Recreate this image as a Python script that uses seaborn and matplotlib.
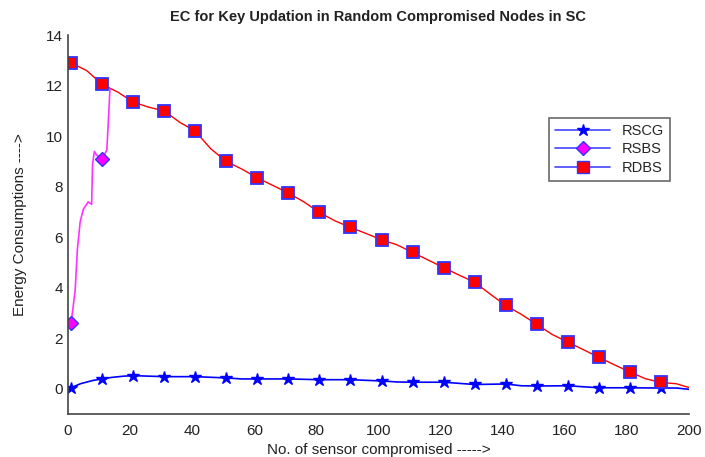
import matplotlib
matplotlib.use("Agg")
import matplotlib.pyplot as plt
from matplotlib.lines import Line2D
import seaborn as sns
import pandas as pd

# Marker positions
marker_x = [1, 11, 21, 31, 41, 51, 61, 71, 81, 91, 101, 111, 121, 131, 141, 151, 161, 171, 181, 191]
rscg_vals = [0.04, 0.39, 0.52, 0.48, 0.48, 0.43, 0.39, 0.39, 0.36, 0.36, 0.31, 0.26, 0.26, 0.17, 0.19,
             0.11, 0.12, 0.03, 0.04, 0.03]
rdbs_vals = [12.9, 12.05, 11.35, 11.0, 10.2, 9.0, 8.35, 7.75, 6.98, 6.39, 5.9, 5.4, 4.8, 4.22, 3.3,
             2.55, 1.85, 1.25, 0.67, 0.25]
rsbs_marker_x = [1, 11]
rsbs_marker_vals = [2.6, 9.1]

# Dense traces
rscg_line_x = [1, 4, 8, 11, 14, 18, 21, 31, 41, 51, 56, 61, 71, 81, 91, 101, 106, 111, 121, 131, 141,
               146, 151, 161, 171, 181, 191, 196, 200]
rscg_line_y = [0.04, 0.2, 0.33, 0.39, 0.45, 0.5, 0.52, 0.48, 0.48, 0.43, 0.39, 0.39, 0.39, 0.36, 0.36,
               0.31, 0.27, 0.26, 0.26, 0.17, 0.19, 0.12, 0.11, 0.12, 0.04, 0.04, 0.03, 0.03, -0.02]
rsbs_line_x = [1, 2.3, 3.0, 3.9, 4.9, 6.5, 7.6, 7.9, 8.5, 9.2, 11, 12.5, 13.2, 13.5]
rsbs_line_y = [2.6, 3.9, 5.5, 6.6, 7.1, 7.4, 7.3, 8.9, 9.4, 9.25, 9.1, 9.45, 11.1, 11.87]
rdbs_line_x = [1, 6, 11, 16, 21, 26, 31, 36, 41, 46, 51, 56, 61, 66, 71, 76, 81, 86, 91, 96, 101, 106,
               111, 116, 121, 126, 131, 136, 141, 146, 151, 156, 161, 166, 171, 176, 181, 186, 191, 196, 200]
rdbs_line_y = [12.9, 12.6, 12.05, 11.75, 11.35, 11.15, 11.0, 10.55, 10.2, 9.5, 9.0, 8.7, 8.35, 8.05,
               7.75, 7.4, 6.98, 6.65, 6.39, 6.15, 5.9, 5.7, 5.4, 5.1, 4.8, 4.5, 4.22, 3.75, 3.3, 2.95,
               2.55, 2.15, 1.85, 1.55, 1.25, 0.95, 0.67, 0.4, 0.25, 0.2, 0.05]

x_ticks = list(range(0, 201, 20))
y_ticks = list(range(0, 15, 2))

sns.set_style("white")
plt.rcParams['font.family'] = ['Liberation Sans', 'DejaVu Sans']

fig = plt.figure(figsize=(7.05, 4.57), dpi=100)
ax = fig.add_axes([0.0965, 0.094, 0.8805, 0.829])

sns.lineplot(x=rdbs_line_x, y=rdbs_line_y, ax=ax, color='red', linewidth=1.0, sort=False)
sns.lineplot(x=rsbs_line_x, y=rsbs_line_y, ax=ax, color='#ff33ff', linewidth=1.2, sort=False)
sns.lineplot(x=rscg_line_x, y=rscg_line_y, ax=ax, color='blue', linewidth=1.2, sort=False)

ax.plot(marker_x, rscg_vals, linestyle='none', marker='*', markersize=9,
        markerfacecolor='blue', markeredgecolor='blue')
ax.plot(rsbs_marker_x, rsbs_marker_vals, linestyle='none', marker='D', markersize=7,
        markerfacecolor='#ff00ff', markeredgecolor='#3333ff')
ax.plot(marker_x, rdbs_vals, linestyle='none', marker='s', markersize=9,
        markerfacecolor='red', markeredgecolor='#3333ff', markeredgewidth=1.3)

ax.set_xlim(0, 200)
ax.set_ylim(-1, 14)
ax.set_xticks(x_ticks)
ax.set_yticks(y_ticks)
ax.tick_params(direction='in', length=4, width=1, colors='#333333', labelsize=11, labelcolor='#222222')
ax.tick_params(axis='x', pad=7)
for s in ['top', 'right']:
    ax.spines[s].set_visible(False)
for s in ['left', 'bottom']:
    ax.spines[s].set_color('#444444')
    ax.spines[s].set_linewidth(1.2)

ax.set_title('EC for Key Updation in Random Compromised Nodes in SC', fontsize=10.5,
             fontweight='bold', color='#222222', pad=10)
ax.set_xlabel('No. of sensor compromised ----->', fontsize=11, color='#222222', labelpad=4)
ax.set_ylabel('Energy Consumptions ---->', fontsize=11, color='#222222', labelpad=14)

handles = [
    Line2D([0], [0], color='#4444ff', lw=1.2, marker='*', markersize=9,
           markerfacecolor='blue', markeredgecolor='blue'),
    Line2D([0], [0], color='#4444ff', lw=1.2, marker='D', markersize=7,
           markerfacecolor='#ff00ff', markeredgecolor='#3333ff'),
    Line2D([0], [0], color='#4444ff', lw=1.2, marker='s', markersize=9,
           markerfacecolor='red', markeredgecolor='#3333ff'),
]
leg = ax.legend(handles, ['RSCG', 'RSBS', 'RDBS'], loc='upper left',
                bbox_to_anchor=(0.775, 0.781), borderaxespad=0, fontsize=10.5, frameon=True,
                fancybox=False, edgecolor='#444444', handlelength=3.8, borderpad=0.4,
                labelspacing=0.3, handletextpad=0.8)
leg.get_frame().set_linewidth(1.2)

fig.savefig('out.png', dpi=100)
